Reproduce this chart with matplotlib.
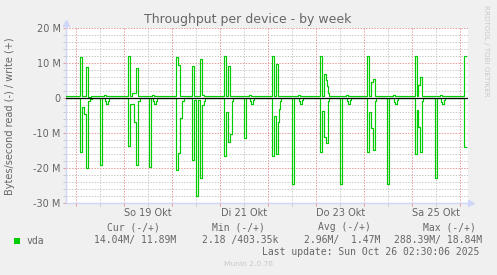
import matplotlib
matplotlib.use('Agg')
import matplotlib.pyplot as plt
import matplotlib.dates as mdates
from matplotlib.ticker import MultipleLocator, FuncFormatter, NullFormatter
from matplotlib.patches import Rectangle
from datetime import datetime, timedelta

# ---- data (hours since 2025-10-18 00:00, step values in MB/s) ----
write_t = [-5.5, 2.0, 3.0, 5.0, 6.0, 7.5, 14.0, 15.0, 15.5,
           26.0, 27.0, 28.0, 30.0, 31.0, 38.0, 39.0, 39.5,
           50.0, 51.0, 52.0, 53.0, 55.0, 58.0, 59.0, 62.0, 63.0, 64.0,
           74.0, 75.0, 76.0, 77.0, 86.5, 87.5, 88.0,
           98.0, 99.0, 100.0, 101.0, 111.0, 112.0, 112.5,
           122.0, 123.0, 124.0, 125.0, 125.5, 126.0, 126.5, 135.0, 136.0, 136.5,
           145.5, 146.5, 147.5, 148.5, 149.5, 158.5, 159.5, 160.0,
           169.5, 170.5, 171.0, 172.0, 173.0, 182.0, 183.0, 183.5,
           194.0, 194.75]
write_v = [0.5, 11.7, 0.7, 9.0, 0.4, 0.5, 1.0, 0.7, 0.5,
           12.0, 0.7, 1.5, 8.5, 0.5, 1.0, 0.7, 0.5,
           11.7, 9.4, 0.5, 0.7, 0.5, 9.1, 0.5, 11.1, 1.0, 0.5,
           11.9, 0.5, 9.1, 0.5, 0.9, 0.6, 0.5,
           11.9, 0.5, 9.6, 0.5, 1.0, 0.6, 0.5,
           11.9, 0.5, 6.8, 5.2, 3.3, 1.3, 0.5, 1.0, 0.6, 0.5,
           11.9, 0.5, 4.5, 5.4, 0.5, 1.0, 0.6, 0.5,
           11.9, 0.5, 3.7, 5.9, 0.5, 1.0, 0.6, 0.5,
           11.89, 11.89]

read_t = [-5.5, 2.0, 3.0, 4.0, 5.0, 6.0, 7.0, 8.0, 12.0, 13.0, 14.5, 15.0, 16.0, 16.5,
          26.0, 27.0, 29.0, 30.0, 31.0, 32.0, 36.5, 37.5, 38.5, 39.0, 40.0, 40.5,
          50.0, 51.0, 52.0, 53.0, 54.0, 58.0, 59.0, 60.0, 61.0, 62.0, 63.0, 64.0, 64.5,
          74.0, 75.0, 76.0, 77.0, 78.0, 78.5, 84.0, 85.0, 87.0, 87.5, 88.5, 89.0,
          98.0, 99.0, 100.0, 101.0, 101.5, 102.0, 102.5, 108.0, 109.0, 111.5, 112.0, 113.0, 113.5,
          122.0, 123.0, 124.0, 125.0, 126.0, 126.5, 132.0, 133.0, 135.5, 136.0, 137.0, 137.5,
          145.5, 146.5, 147.5, 148.5, 149.5, 150.0, 155.5, 156.5, 159.0, 159.5, 160.5, 161.0,
          169.5, 170.5, 171.0, 172.0, 173.0, 173.5, 179.5, 180.5, 182.5, 183.0, 184.0, 184.5,
          194.0, 194.75]
read_v = [-0.1, -15.3, -2.6, -4.7, -20.1, -0.8, -0.3, -0.1, -19.0, -0.1, -0.8, -1.8, -0.8, -0.1,
          -13.8, -1.8, -6.8, -19.0, -0.9, -0.1, -19.6, -0.1, -0.8, -1.8, -0.8, -0.1,
          -20.5, -15.7, -5.8, -0.8, -0.1, -17.6, -0.5, -27.9, -0.5, -22.8, -1.9, -0.8, -0.1,
          -16.7, -3.9, -12.5, -10.2, -0.8, -0.1, -11.5, -0.1, -0.8, -1.8, -0.6, -0.1,
          -16.7, -5.2, -16.1, -6.8, -3.0, -0.8, -0.1, -24.5, -0.1, -0.8, -1.7, -0.7, -0.1,
          -15.5, -3.7, -11.1, -12.9, -0.8, -0.1, -24.7, -0.1, -0.8, -1.7, -0.7, -0.1,
          -15.3, -4.1, -8.7, -14.9, -0.8, -0.1, -24.7, -0.1, -1.0, -1.8, -0.6, -0.1,
          -15.9, -3.5, -8.2, -15.5, -0.8, -0.1, -22.9, -0.1, -1.0, -1.8, -0.6, -0.1,
          -14.04, -14.04]

legend_headers = ["Cur (-/+)", "Min (-/+)", "Avg (-/+)", "Max (-/+)"]
legend_values = ["14.04M/ 11.89M", "2.18 /403.35k", "2.96M/  1.47M", "288.39M/ 18.84M"]
series_name = "vda"
title = "Throughput per device - by week"
ylabel = "Bytes/second read (-) / write (+)"
last_update = "Last update: Sun Oct 26 02:30:06 2025"
munin_ver = "Munin 2.0.76"
watermark = "RRDTOOL / TOBI OETIKER"
day_names = ['Mo', 'Di', 'Mi', 'Do', 'Fr', 'Sa', 'So']
labeled_days = [19, 21, 23, 25]

# ---- figure ----
W, H = 497, 275
base = datetime(2025, 10, 18)
def tnum(h):
    return mdates.date2num(base + timedelta(hours=h))

GREEN = '#00CC00'
FONT = '#666666'
AXIS = '#CFD6F8'
MGRID = '#E89A9A'
GRID = '#CACACA'

fig = plt.figure(figsize=(W / 100, H / 100), dpi=100, facecolor='#F0F0F0')
ax = fig.add_axes([66 / W, 1 - 203 / H, 402 / W, 175 / H])
ax.set_facecolor('white')

ax.plot([tnum(h) for h in write_t], write_v, color=GREEN, lw=0.85,
        drawstyle='steps-post', zorder=3)
ax.plot([tnum(h) for h in read_t], read_v, color=GREEN, lw=0.85,
        drawstyle='steps-post', zorder=3)
ax.axhline(0, color='black', lw=0.9, zorder=4)

ax.set_xlim(tnum(-5.15), tnum(195.85))
ax.set_ylim(-30, 20)

# y ticks
ax.yaxis.set_major_locator(MultipleLocator(10))
ax.yaxis.set_minor_locator(MultipleLocator(2))
ax.yaxis.set_major_formatter(FuncFormatter(lambda v, p: '0' if abs(v) < 1e-9 else f'{int(round(v))} M'))

# x ticks
ax.xaxis.set_major_locator(mdates.HourLocator(byhour=[0]))
ax.xaxis.set_minor_locator(mdates.HourLocator(byhour=[12]))
ax.xaxis.set_major_formatter(NullFormatter())
def xfmt(x, pos):
    d = mdates.num2date(x)
    if d.day in labeled_days:
        return f"{day_names[d.weekday()]} {d.day} Okt"
    return ''
ax.xaxis.set_minor_formatter(FuncFormatter(xfmt))

ax.grid(which='major', color=MGRID, lw=0.72, linestyle=(0, (1.4, 1.4)))
ax.grid(which='minor', color=GRID, lw=0.72, linestyle=(0, (1.4, 1.4)))
ax.set_axisbelow(True)

ax.tick_params(which='major', length=2.2, width=0.72, color=MGRID, labelsize=7,
               labelcolor=FONT, pad=1.5)
ax.tick_params(which='minor', length=2.2, width=0.72, color=GRID, labelsize=7,
               labelcolor=FONT, pad=1.5)
ax.tick_params(axis='y', which='minor', labelleft=False)

for s in ['top', 'right']:
    ax.spines[s].set_visible(False)
for s in ['left', 'bottom']:
    ax.spines[s].set_color(AXIS)
    ax.spines[s].set_linewidth(1.0)
ax.plot([0, 0], [1.0, 1.03], transform=ax.transAxes, color=AXIS, lw=1.0, clip_on=False)
ax.plot([0], [1.028], marker='^', ms=4.2, color=AXIS, transform=ax.transAxes, clip_on=False)
ax.plot([1.0, 1.008], [0, 0], transform=ax.transAxes, color=AXIS, lw=1.0, clip_on=False)
ax.plot([1.008], [0], marker='>', ms=4.2, color=AXIS, transform=ax.transAxes, clip_on=False)

def P(x, y):
    return (x / W, 1 - y / H)

fig.text(*P(248, 19), title, ha='center', va='center', fontsize=9, color=FONT)
fig.text(*P(10, 116), ylabel, ha='center', va='center', rotation=90, fontsize=7, color=FONT)
fig.text(*P(486, 51), watermark, ha='center', va='center', rotation=270, fontsize=5.1,
         color='#C8C8C8')

mono = 'DejaVu Sans Mono'
hdr_x = [107.3, 212.3, 317.7, 422.7]
val_x = [94, 201.7, 304, 394.3]
for x, t in zip(hdr_x, legend_headers):
    fig.text(*P(x, 227.5), t, ha='left', va='center', fontsize=7, color=FONT, family=mono)
for x, t in zip(val_x, legend_values):
    fig.text(*P(x, 240.5), t, ha='left', va='center', fontsize=7, color=FONT, family=mono)
fig.text(*P(26.7, 240.5), series_name, ha='left', va='center', fontsize=7, color=FONT, family=mono)
fig.add_artist(Rectangle(P(14, 243.5), 6 / W, 6 / H, transform=fig.transFigure,
                         facecolor=GREEN, edgecolor='none'))
fig.text(*P(261.7, 252), last_update, ha='left', va='center', fontsize=7, color=FONT, family=mono)
fig.text(*P(248, 264), munin_ver, ha='center', va='center', fontsize=5.4, color='#C8C8C8')

fig.savefig('out.png', dpi=100, facecolor=fig.get_facecolor())
